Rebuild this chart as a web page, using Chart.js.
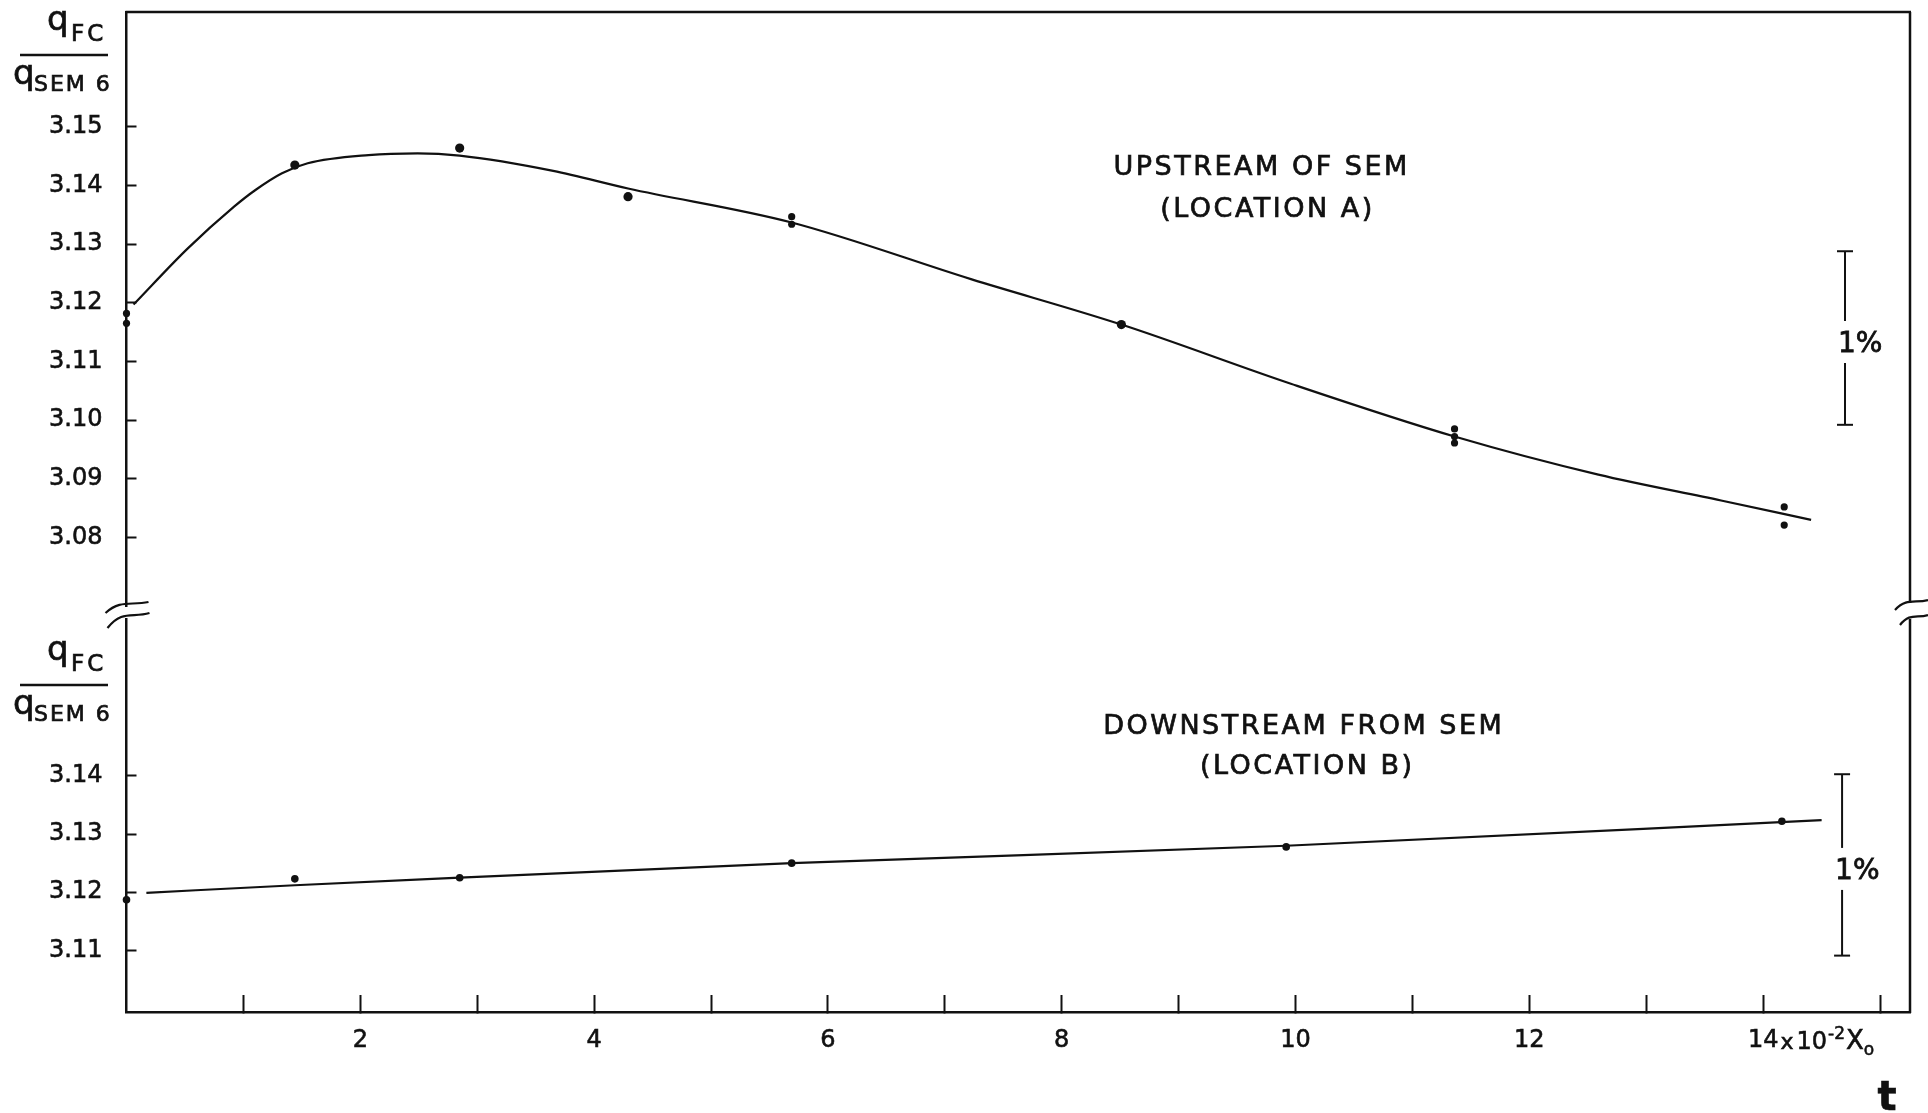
<!DOCTYPE html>
<html>
<head>
<meta charset="utf-8">
<title>qFC / qSEM6 vs t</title>
<script src="https://cdn.jsdelivr.net/npm/chart.js@4.4.1/dist/chart.umd.min.js"></script>
<style>
  html, body { margin: 0; padding: 0; background: #fff; }
  #wrap { position: relative; width: 1928px; height: 1113px; overflow: hidden; background: #fff; }
  #wrap canvas { position: absolute; left: 0; top: 0; }
</style>
</head>
<body>
<div id="wrap">
  <canvas id="upperChart" width="1928" height="1113"></canvas>
  <canvas id="lowerChart" width="1928" height="1113"></canvas>
</div>
<script>
/* ── Data (t in units of 10^-2 X0) ── */
const upperDotX = [0, 0, 1.44, 2.85, 4.29, 5.69, 5.69, 8.51, 11.36, 11.36, 11.36, 14.18, 14.18];
const upperDotY = [3.1182, 3.1165, 3.1435, 3.1464, 3.1381, 3.1347, 3.1334, 3.1163, 3.0985, 3.0972, 3.0961, 3.0852, 3.0821];

const upperCurveX = [0.06, 0.52, 0.92, 1.10, 1.33, 1.55, 2.07, 2.49, 2.85, 3.65, 4.29, 5.69, 7.23, 8.51, 9.96, 11.36, 12.59, 13.64, 14.41];
const upperCurveY = [3.1197, 3.1292, 3.1364, 3.1392, 3.1421, 3.1438, 3.1452, 3.1455, 3.1451, 3.1425, 3.1395, 3.1337, 3.1240, 3.1163, 3.1062, 3.0972, 3.0907, 3.0863, 3.0830];

const lowerDotX = [0, 1.44, 2.85, 5.69, 9.92, 14.16];
const lowerDotY = [3.1187, 3.1223, 3.1225, 3.1250, 3.1278, 3.1322];

const lowerLineX = [0.17, 1.44, 2.85, 5.69, 9.92, 14.50];
const lowerLineY = [3.1199, 3.1212, 3.1225, 3.1250, 3.1280, 3.1324];

const upperTicks = [3.08, 3.09, 3.10, 3.11, 3.12, 3.13, 3.14, 3.15];
const lowerTicks = [3.11, 3.12, 3.13, 3.14];
const xTickValues = [1, 2, 3, 4, 5, 6, 7, 8, 9, 10, 11, 12, 13, 14, 15];
const xTickLabels = ['', '2', '', '4', '', '6', '', '8', '', '10', '', '12', '', '14', ''];

const xRange = [0, 15.256];
const upperRange = [3.0683, 3.1696];
const lowerRange = [3.0994, 3.1670];

// "1%" scale bars (top, bottom)
const pctBarUpper = [3.1288, 3.0992];
const pctBarLower = [3.1403, 3.1091];

/* ── Style ── */
const INK = '#111';
const FONT = '"DejaVu Sans", sans-serif';
Chart.defaults.font.family = FONT;
Chart.defaults.color = INK;

const pts = (xs, ys) => xs.map((x, i) => ({ x, y: ys[i] }));

function dotRadius(big, small) {
  return ctx => {
    const d = ctx.dataset.data;
    const p = d[ctx.dataIndex];
    if (!p) return big;
    const stacked = d.some((q, j) => j !== ctx.dataIndex && q.x === p.x);
    return stacked ? small : big;
  };
}

function xScale(show) {
  const s = {
    type: 'linear', min: xRange[0], max: xRange[1], display: show,
    afterBuildTicks: sc => { sc.ticks = xTickValues.map(v => ({ value: v })); },
    border: { display: true, color: INK, width: 2.5 },
    grid: { drawOnChartArea: false, drawTicks: true, tickLength: -17, tickWidth: 2, tickColor: INK },
    ticks: {
      padding: 31, autoSkip: false, maxRotation: 0, color: INK, font: { size: 24 },
      textStrokeColor: INK, textStrokeWidth: 0.6,
      callback: v => xTickLabels[xTickValues.indexOf(v)] || ''
    }
  };
  if (show) s.afterFit = sc => { sc.height = 101; sc.paddingLeft = 0; sc.paddingRight = 0; };
  return s;
}

function yScale(range, ticks) {
  return {
    type: 'linear', position: 'left', min: range[0], max: range[1],
    afterBuildTicks: s => { s.ticks = ticks.map(v => ({ value: v })); },
    // fixed axis width; no label overhang padding (the labels sit well inside)
    afterFit: s => { s.width = 77.5; s.paddingTop = 0; s.paddingBottom = 0; },
    border: { display: true, color: INK, width: 2.5 },
    grid: { drawOnChartArea: false, drawTicks: true, tickLength: -10, tickWidth: 2, tickColor: INK },
    ticks: {
      crossAlign: 'far', autoSkip: false, color: INK, font: { size: 24 },
      textStrokeColor: INK, textStrokeWidth: 0.6,
      callback: v => v.toFixed(2)
    }
  };
}

/* ── Drawing helpers ── */
function seg(ctx, x1, y1, x2, y2) {
  ctx.beginPath(); ctx.moveTo(x1, y1); ctx.lineTo(x2, y2); ctx.stroke();
}

function wave(ctx, x0, y0, x1, y1) {
  const w = x1 - x0, h = y0 - y1;
  ctx.beginPath();
  ctx.moveTo(x0, y0);
  ctx.bezierCurveTo(x0 + w * 0.35, y0 - h * 1.25, x0 + w * 0.6, y1 + h * 0.35, x1, y1);
  ctx.stroke();
}

// text drawn with a thin outline, to get the weight of the hand lettering
function ink(ctx, text, x, y, font, spacing) {
  ctx.font = font;
  ctx.letterSpacing = (spacing || 0) + 'px';
  ctx.fillText(text, x, y);
  ctx.strokeText(text, x, y);
}

function fraction(ctx, barY) {
  ctx.save();
  ctx.fillStyle = INK;
  ctx.strokeStyle = INK;
  ctx.lineWidth = 0.7;
  ctx.textAlign = 'left';
  ctx.textBaseline = 'alphabetic';
  ink(ctx, 'q', 47, barY - 25, `34px ${FONT}`);
  ink(ctx, 'FC', 71, barY - 14, `23px ${FONT}`, 3);
  ctx.lineWidth = 2.5;
  seg(ctx, 20, barY, 108, barY);
  ctx.lineWidth = 0.7;
  ink(ctx, 'q', 13, barY + 29, `34px ${FONT}`);
  ink(ctx, 'SEM 6', 34, barY + 36, `22px ${FONT}`, 2);
  ctx.restore();
}

function caption(ctx, chart, text, xv, yv) {
  const px = chart.scales.x.getPixelForValue(xv);
  const py = chart.scales.y.getPixelForValue(yv);
  ctx.save();
  ctx.fillStyle = INK;
  ctx.strokeStyle = INK;
  ctx.lineWidth = 0.7;
  ctx.textAlign = 'center';
  ctx.textBaseline = 'alphabetic';
  ink(ctx, text, px, py + 10, `27px ${FONT}`, 2.5);
  ctx.restore();
}

function pctBar(ctx, chart, xv, range) {
  const x = chart.scales.x.getPixelForValue(xv);
  const yTop = chart.scales.y.getPixelForValue(range[0]);
  const yBot = chart.scales.y.getPixelForValue(range[1]);
  const mid = (yTop + yBot) / 2 + 4;
  ctx.save();
  ctx.strokeStyle = INK;
  ctx.fillStyle = INK;
  ctx.lineWidth = 2;
  seg(ctx, x, yTop, x, mid - 21);
  seg(ctx, x, mid + 21, x, yBot);
  seg(ctx, x - 8, yTop, x + 8, yTop);
  seg(ctx, x - 8, yBot, x + 8, yBot);
  ctx.lineWidth = 0.8;
  ctx.textAlign = 'left';
  ctx.textBaseline = 'alphabetic';
  ink(ctx, '1%', x - 7, mid + 10, `28px ${FONT}`);
  ctx.restore();
}

/* ── Plugins ── */
const upperDecor = {
  id: 'upperDecor',
  afterDraw(chart) {
    const { ctx, chartArea: a } = chart;
    ctx.save();
    ctx.strokeStyle = INK;
    ctx.lineWidth = 2.5;
    seg(ctx, a.left - 1, a.top, a.right + 1, a.top);
    seg(ctx, a.right, a.top, a.right, a.bottom - 3);
    ctx.lineWidth = 2.2;
    wave(ctx, a.left - 21, a.bottom + 7, a.left + 22, a.bottom - 4);
    wave(ctx, a.right - 15, a.bottom + 4, a.right + 18, a.bottom - 6);
    ctx.restore();
    fraction(ctx, a.top + 43);
    caption(ctx, chart, 'UPSTREAM OF SEM', 9.71, 3.1435);
    caption(ctx, chart, '(LOCATION A)', 9.76, 3.1363);
    pctBar(ctx, chart, 14.70, pctBarUpper);
  }
};

const lowerDecor = {
  id: 'lowerDecor',
  afterDraw(chart) {
    const { ctx, chartArea: a } = chart;
    ctx.save();
    ctx.strokeStyle = INK;
    ctx.lineWidth = 2.5;
    seg(ctx, a.right, a.top, a.right, a.bottom + 1);
    ctx.lineWidth = 2.2;
    wave(ctx, a.left - 19, a.top + 9, a.left + 23, a.top - 6);
    wave(ctx, a.right - 10, a.top + 6, a.right + 18, a.top - 4);
    ctx.restore();
    fraction(ctx, a.top + 66);
    caption(ctx, chart, 'DOWNSTREAM FROM SEM', 10.07, 3.1489);
    caption(ctx, chart, '(LOCATION B)', 10.10, 3.1421);
    pctBar(ctx, chart, 14.675, pctBarLower);

    // "14 x 10^-2 X0" unit label and the axis name "t"
    const xs = chart.scales.x;
    const base = a.bottom + 37;
    ctx.save();
    ctx.fillStyle = INK;
    ctx.strokeStyle = INK;
    ctx.lineWidth = 0.6;
    ctx.textAlign = 'left';
    ctx.textBaseline = 'alphabetic';
    ctx.font = `24px ${FONT}`;
    let cx = xs.getPixelForValue(14) + ctx.measureText('14').width / 2 + 2;
    ink(ctx, 'x', cx, base, `22px ${FONT}`);
    cx += ctx.measureText('x').width + 3;
    ink(ctx, '10', cx, base, `24px ${FONT}`);
    cx += ctx.measureText('10').width + 1;
    ink(ctx, '-2', cx, base - 10, `17px ${FONT}`);
    cx += ctx.measureText('-2').width + 1;
    ink(ctx, 'X', cx, base, `26px ${FONT}`);
    cx += ctx.measureText('X').width;
    ink(ctx, 'o', cx, base + 6, `17px ${FONT}`);
    ctx.textAlign = 'center';
    ink(ctx, 't', a.right - 23, a.bottom + 98, `bold 40px ${FONT}`);
    ctx.restore();
  }
};

/* ── Charts ── */
function lineSet(data) {
  return {
    data, showLine: true, borderColor: INK, borderWidth: 2.2, pointRadius: 0,
    cubicInterpolationMode: 'monotone', fill: false, clip: false
  };
}

function dotSet(data, big, small) {
  return {
    data, showLine: false, backgroundColor: INK, borderWidth: 0,
    pointRadius: dotRadius(big, small), pointHoverRadius: 0, clip: false
  };
}

function baseOptions(padding, showX, yRange, yTicks) {
  return {
    responsive: false, animation: false, devicePixelRatio: 1,
    layout: { padding, autoPadding: false },
    plugins: { legend: { display: false }, tooltip: { enabled: false } },
    scales: { x: xScale(showX), y: yScale(yRange, yTicks) }
  };
}

new Chart(document.getElementById('upperChart'), {
  type: 'scatter',
  data: {
    datasets: [
      lineSet(pts(upperCurveX, upperCurveY)),
      dotSet(pts(upperDotX, upperDotY), 4.6, 3.6)
    ]
  },
  options: baseOptions({ left: 49, right: 18, top: 12, bottom: 507 }, false, upperRange, upperTicks),
  plugins: [upperDecor]
});

new Chart(document.getElementById('lowerChart'), {
  type: 'scatter',
  data: {
    datasets: [
      lineSet(pts(lowerLineX, lowerLineY)),
      dotSet(pts(lowerDotX, lowerDotY), 3.8, 3.8)
    ]
  },
  options: baseOptions({ left: 49, right: 18, top: 619, bottom: 0 }, true, lowerRange, lowerTicks),
  plugins: [lowerDecor]
});
</script>
</body>
</html>
